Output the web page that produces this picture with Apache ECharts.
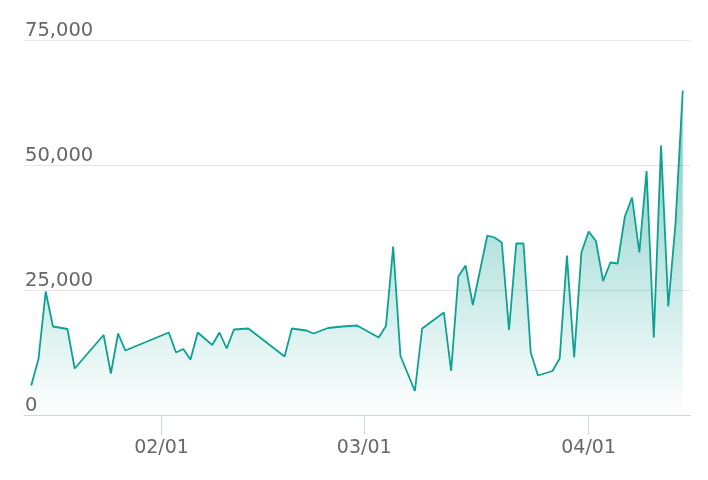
<!DOCTYPE html>
<html>
<head>
<meta charset="utf-8">
<script src="https://cdn.jsdelivr.net/npm/echarts@6/dist/echarts.min.js"></script>
<style>html,body{margin:0;padding:0;background:#fff}#c{width:708px;height:480px}</style>
</head>
<body>
<div id="c"></div>
<script>
var dates = ['2023-01-14','2023-01-15','2023-01-16','2023-01-17','2023-01-19','2023-01-20','2023-01-24','2023-01-25','2023-01-26','2023-01-27',
'2023-02-02','2023-02-03','2023-02-04','2023-02-05','2023-02-06','2023-02-08','2023-02-09','2023-02-10','2023-02-11','2023-02-13','2023-02-18','2023-02-19','2023-02-21','2023-02-22','2023-02-24','2023-02-26','2023-02-28',
'2023-03-03','2023-03-04','2023-03-05','2023-03-06','2023-03-08','2023-03-09','2023-03-12','2023-03-13','2023-03-14','2023-03-15','2023-03-16','2023-03-18','2023-03-19','2023-03-20','2023-03-21','2023-03-22','2023-03-23','2023-03-24','2023-03-25','2023-03-27','2023-03-28','2023-03-29','2023-03-30','2023-03-31',
'2023-04-01','2023-04-02','2023-04-03','2023-04-04','2023-04-05','2023-04-06','2023-04-07','2023-04-08','2023-04-09','2023-04-10','2023-04-11','2023-04-12','2023-04-13','2023-04-14'];
var values = [5900,11200,24700,17700,17200,9300,16000,8300,16300,12900,
16500,12500,13200,11100,16500,14000,16500,13300,17100,17300,11700,17300,16900,16300,17400,17700,17900,
15500,17800,33700,11800,4800,17300,20500,8800,27700,29900,22000,35900,35500,34500,17000,34300,34300,12500,7900,8800,11300,31900,11500,32500,
36700,34800,26800,30500,30300,39700,43500,32500,48800,15500,53900,21700,38300,64900];
var xMin = '2023-01-13', xMax = '2023-04-15';
var yMin = 0, yMax = 75000, yStep = 25000;

var chart = echarts.init(document.getElementById('c'), null, {renderer:'canvas'});
var DAY = 24*3600*1000;
chart.setOption({
  animation: false,
  grid: {left: 24, right: 18, top: 40, bottom: 65},
  xAxis: {
    type: 'time',
    min: xMin, max: xMax,
    minInterval: 28*DAY, maxInterval: 31*DAY,
    axisLine: {lineStyle: {color: '#ccd6eb', width: 1}},
    axisTick: {show: true, length: 20, lineStyle: {color: '#ccd6eb'}},
    splitLine: {show: false},
    axisLabel: {color: '#666666', fontSize: 19, fontFamily: 'DejaVu Sans', margin: 24,
      formatter: '{MM}/{dd}', showMinLabel: false, showMaxLabel: false}
  },
  yAxis: {
    type: 'value', min: yMin, max: yMax, interval: yStep,
    axisLine: {show: false}, axisTick: {show: false},
    splitLine: {lineStyle: {color: '#e6e6e6', width: 1}},
    axisLabel: {inside: true, margin: 1, verticalAlign: 'bottom', align: 'left',
      lineHeight: 16, padding: [0,0,1,0], color: '#666666', fontSize: 19.5, fontFamily: 'DejaVu Sans',
      formatter: function(v){ return v.toLocaleString('en-US'); }}
  },
  series: [{
    type: 'line',
    data: dates.map(function(d,i){ return [d, values[i]]; }),
    symbol: 'none',
    lineStyle: {color: '#0ca193', width: 1.8},
    itemStyle: {color: '#0ca193'},
    areaStyle: {color: new echarts.graphic.LinearGradient(0,0,0,1,[
      {offset: 0, color: 'rgba(12,161,147,0.8)'},
      {offset: 1, color: 'rgba(12,161,147,0.0)'}
    ])}
  }]
});
</script>
</body>
</html>
